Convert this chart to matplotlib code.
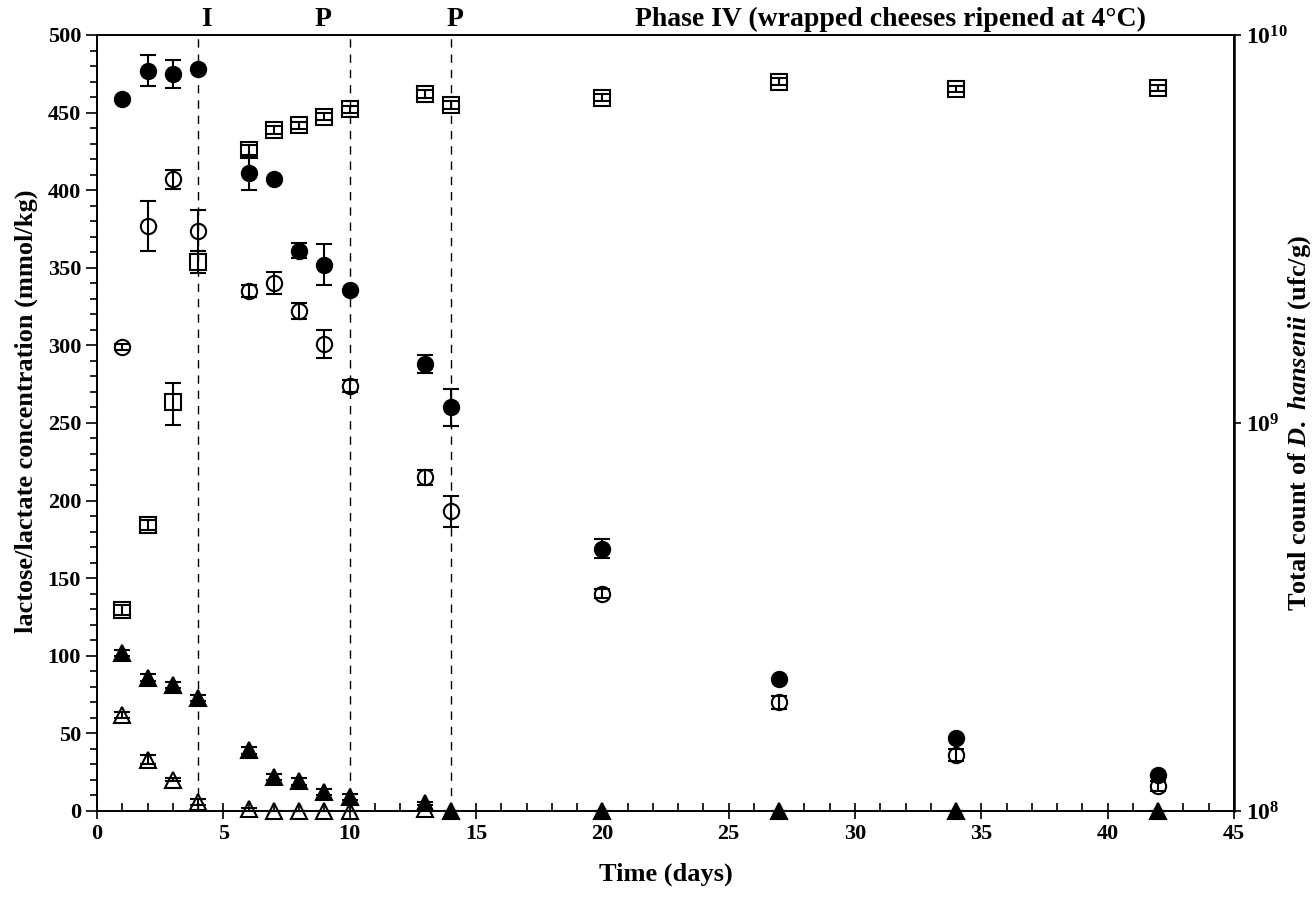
import numpy as np
import matplotlib
matplotlib.use("Agg")
from matplotlib import pyplot as plt
from matplotlib.ticker import MultipleLocator, NullLocator, FixedLocator

plt.rcParams['font.family'] = 'Liberation Serif'
plt.rcParams['font.weight'] = 'bold'
plt.rcParams['mathtext.fontset'] = 'custom'
plt.rcParams['mathtext.rm'] = 'Liberation Serif:bold'
plt.rcParams['mathtext.it'] = 'Liberation Serif:italic:bold'
plt.rcParams['mathtext.bf'] = 'Liberation Serif:bold'

days = [1, 2, 3, 4, 6, 7, 8, 9, 10, 13, 14, 20, 27, 34, 42]

lactose_filled = [459, 477, 475, 478, 411, 407, 361, 352, 336, 288, 260, 169, 85, 47, 23]
lactose_filled_err = [0, 10, 9, 0, 11, 0, 5, 13, 0, 6, 12, 6, 0, 0, 0]

lactate_open = [299, 377, 407, 374, 335, 340, 322, 301, 274, 215, 193, 140, 70, 36, 16]
lactate_open_err = [2, 16, 6, 13, 4, 7, 5, 9, 4, 5, 10, 3, 4, 4, 3]

tri_filled = [102, 86, 81, 73, 39, 22, 19, 12, 9, 5, 0, 0, 0, 0, 0]
tri_filled_err = [2, 2, 2, 2, 2, 2, 2, 2, 2, 1, 0, 0, 0, 0, 0]

tri_open = [62, 33, 20, 6, 1, 0, 0, 0, 0, 1]
tri_open_err = [2, 3, 1, 2, 1, 0, 0, 0, 0, 0]
tri_open_days = days[:10]

count = [3.3e8, 5.46e8, 1.13e9, 2.6e9, 5.05e9, 5.69e9, 5.86e9, 6.15e9, 6.43e9,
         7.05e9, 6.6e9, 6.9e9, 7.58e9, 7.26e9, 7.3e9]
count_err = [0.1e8, 0.15e8, 0.14e9, 0.17e9, 0.15e9, 0.13e9, 0.12e9, 0.13e9, 0.15e9,
             0.15e9, 0.15e9, 0.15e9, 0.15e9, 0.12e9, 0.12e9]

phase_lines = [4, 10, 14]

fig = plt.figure(figsize=(13.16, 9.11), dpi=100)
ax = fig.add_axes([0.0737, 0.1098, 0.864, 0.8518])
ax2 = ax.twinx()

eb = dict(ecolor='black', elinewidth=1.5, capsize=6, capthick=1.5, linestyle='none')


def plot_series(a, x, y, err, fmt, filled):
    cont = a.errorbar(x, y, yerr=err, fmt=fmt, ms=11,
                      mfc='black' if filled else 'none', mec='black', mew=1.5,
                      **eb, zorder=3)
    for art in cont.lines[0:1] + tuple(cont.lines[1]) + tuple(cont.lines[2]):
        art.set_clip_on(False)


plot_series(ax, days, lactose_filled, lactose_filled_err, 'o', True)
plot_series(ax, days, lactate_open, lactate_open_err, 'o', False)
plot_series(ax, days, tri_filled, tri_filled_err, '^', True)
plot_series(ax, tri_open_days, tri_open, tri_open_err, '^', False)
plot_series(ax2, days, count, count_err, 's', False)

for d in phase_lines:
    ax.axvline(d, color='black', ls=(0, (6, 5)), lw=1)

ax.set_xlim(0, 45)
ax.set_ylim(0, 500)
ax2.set_yscale('log')
ax2.set_ylim(1e8, 1e10)

ax.xaxis.set_major_locator(MultipleLocator(5))
ax.xaxis.set_minor_locator(MultipleLocator(1))
ax.yaxis.set_major_locator(MultipleLocator(50))
ax.yaxis.set_minor_locator(MultipleLocator(10))
ax.tick_params(axis='x', which='major', direction='inout', length=12, width=1.2, labelsize=16)
ax.tick_params(axis='x', which='minor', direction='in', length=6, width=1.2)
ax.tick_params(axis='y', which='major', direction='out', length=8, width=1.2, labelsize=16)
ax.tick_params(axis='y', which='minor', direction='out', length=5, width=1.2)
ax.tick_params(top=False, which='both')

ax2.yaxis.set_major_locator(FixedLocator([1e8, 1e9, 1e10]))
ax2.yaxis.set_minor_locator(NullLocator())
ax2.tick_params(axis='y', which='major', direction='out', length=5, width=1.2, labelsize=17)

for a in (ax, ax2):
    for s in a.spines.values():
        s.set_linewidth(1.2)
ax2.spines['right'].set_linewidth(1.8)

ax.set_xlabel('Time (days)', fontsize=19, fontweight='bold')
ax.xaxis.set_label_coords(0.5, -0.066)
ax.set_ylabel('lactose/lactate concentration (mmol/kg)', fontsize=19, fontweight='bold')
ax.yaxis.set_label_coords(-0.052, 0.515)
ax2.set_ylabel(r'Total count of $\mathit{D.\ hansenii}$ (ufc/g)', fontsize=19,
               fontweight='bold')
ax2.yaxis.set_label_coords(1.046, 0.5)

tkw = dict(fontsize=20, fontweight='bold', ha='center', va='bottom')
ax.text(4.35, 502, 'I', **tkw)
ax.text(8.95, 502, 'P', **tkw)
ax.text(14.15, 502, 'P', **tkw)
ax.text(31.4, 502, 'Phase IV (wrapped cheeses ripened at 4\u00b0C)', **tkw)

fig.savefig('out.png', dpi=100)
